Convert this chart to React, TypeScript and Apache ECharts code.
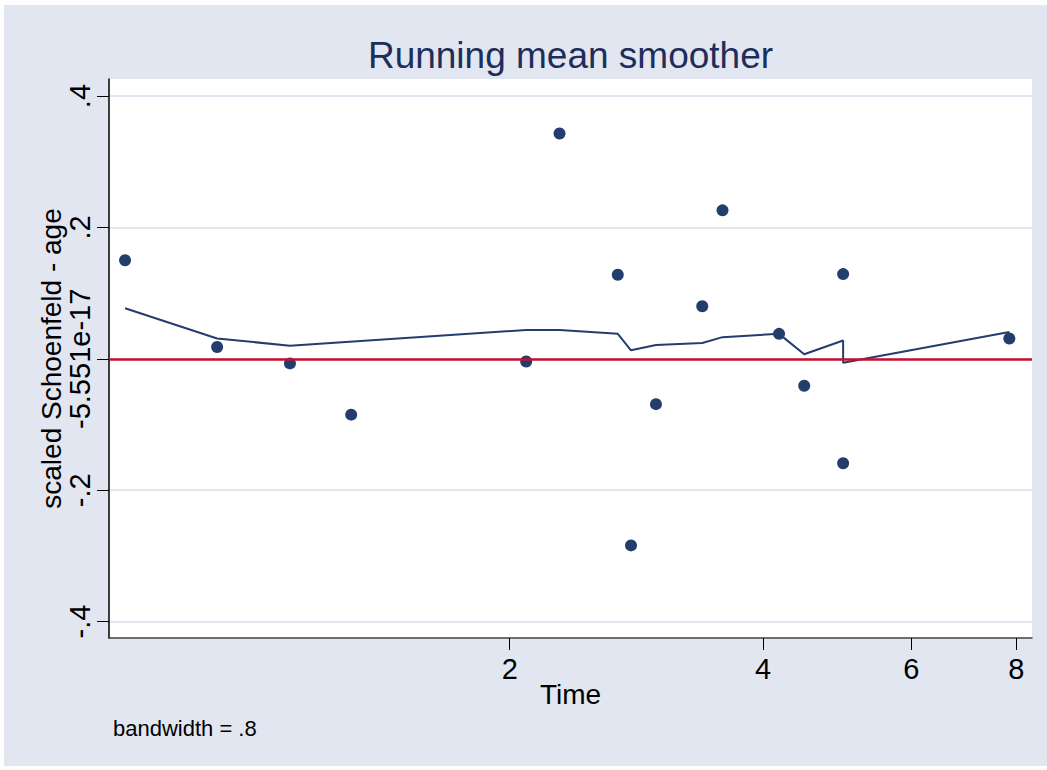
import React, { useEffect, useRef } from "react";
import * as echarts from "echarts";

// Observations (Time, scaled Schoenfeld residual for age)
const obsTime = [0.698, 0.898, 1.096, 1.296, 2.092, 2.292, 2.688, 2.787, 2.984, 3.387, 3.58, 4.179, 4.477, 4.98, 4.98, 7.848];
const obsResidual = [0.15, 0.018, -0.007, -0.085, -0.004, 0.343, 0.128, -0.284, -0.069, 0.08, 0.226, 0.038, -0.041, 0.129, -0.159, 0.031];

// Running mean smoother
const smoothTime = [0.698, 0.898, 1.096, 2.092, 2.292, 2.688, 2.787, 2.984, 3.387, 3.58, 4.179, 4.477, 4.98, 4.98, 7.848];
const smoothValue = [0.077, 0.031, 0.02, 0.044, 0.044, 0.038, 0.013, 0.021, 0.024, 0.033, 0.038, 0.007, 0.028, -0.006, 0.041];

// Axes
const xTickValues = [2, 4, 6, 8];
const xRange = [0.668, 8.35];
const yTickValues = [-0.4, -0.2, 0, 0.2, 0.4];
const yTickLabels = ["-.4", "-.2", "-5.551e-17", ".2", ".4"];
const yRange = [-0.425, 0.426];

const FONT = "'Liberation Sans', Arial, Helvetica, sans-serif";
const NAVY = "#233D6C";

const lg = (v: number) => Math.log2(v);

export default function App() {
  const ref = useRef<HTMLDivElement>(null);
  useEffect(() => {
    document.body.style.margin = "0";
    const chart = echarts.init(ref.current!, null, { renderer: "svg" });
    const option: any = {
      animation: false,
      backgroundColor: "#E1E6F0",
      textStyle: { fontFamily: FONT },
      grid: {
        left: 105,
        top: 74,
        width: 923,
        height: 559,
        show: true,
        backgroundColor: "#ffffff",
        borderWidth: 0,
      },
      graphic: [
        {
          type: "text",
          x: 566.5,
          y: 50,
          style: {
            text: "Running mean smoother",
            fontSize: 37,
            fontFamily: FONT,
            fill: "#1E2D5A",
            textAlign: "center",
            textVerticalAlign: "middle",
          },
        },
        {
          type: "text",
          x: 109,
          y: 723,
          style: {
            text: "bandwidth = .8",
            fontSize: 22,
            fontFamily: FONT,
            fill: "#000",
            textAlign: "left",
            textVerticalAlign: "middle",
          },
        },
      ],
      xAxis: {
        type: "value",
        min: lg(xRange[0]),
        max: lg(xRange[1]),
        name: "Time",
        nameLocation: "middle",
        nameMoveOverlap: false,
        nameGap: 42,
        nameTextStyle: { fontSize: 28, color: "#000", fontFamily: FONT },
        axisLine: { show: true, onZero: false, lineStyle: { color: "#404040", width: 1.5 } },
        axisTick: {
          show: true,
          length: 12,
          customValues: xTickValues.map(lg),
          lineStyle: { color: "#000", width: 1 },
        },
        axisLabel: {
          customValues: xTickValues.map(lg),
          formatter: (v: number) => String(Math.round(Math.pow(2, v))),
          fontSize: 29,
          color: "#000",
          margin: 16,
          fontFamily: FONT,
        },
        splitLine: { show: false },
      },
      yAxis: {
        type: "value",
        min: yRange[0],
        max: yRange[1],
        name: "scaled Schoenfeld - age",
        nameLocation: "middle",
        nameMoveOverlap: false,
        nameGap: 44,
        nameTextStyle: { fontSize: 28, color: "#000", fontFamily: FONT },
        axisLine: { show: true, onZero: false, lineStyle: { color: "#000", width: 1.5 } },
        axisTick: {
          show: true,
          length: 12,
          customValues: yTickValues,
          lineStyle: { color: "#000", width: 1 },
        },
        axisLabel: {
          customValues: yTickValues,
          rotate: 90,
          formatter: (v: number) => {
            const i = yTickValues.findIndex((t) => Math.abs(t - v) < 1e-9);
            return i >= 0 ? yTickLabels[i] : "";
          },
          fontSize: 29,
          color: "#000",
          margin: 15,
          fontFamily: FONT,
        },
        splitLine: { show: true, lineStyle: { color: "#E1E6F0", width: 2 } },
      },
      series: [
        {
          type: "scatter",
          data: obsTime.map((t, i) => [lg(t), obsResidual[i]]),
          symbol: "circle",
          symbolSize: 12,
          itemStyle: { color: NAVY, opacity: 1 },
          z: 3,
          markLine: {
            silent: true,
            symbol: ["none", "none"],
            label: { show: false },
            lineStyle: { color: "#C4112F", width: 2.5, type: "solid" },
            data: [{ yAxis: 0 }],
          },
        },
        {
          type: "line",
          data: smoothTime.map((t, i) => [lg(t), smoothValue[i]]),
          showSymbol: false,
          symbol: "none",
          lineStyle: { color: NAVY, width: 2 },
          z: 2,
        },
      ],
    };
    chart.setOption(option);
    return () => chart.dispose();
  }, []);
  return (
    <div style={{ position: "relative", width: 1047, height: 770, background: "#ffffff" }}>
      <div ref={ref} style={{ position: "absolute", left: 4, top: 5, width: 1043, height: 761 }} />
    </div>
  );
}
